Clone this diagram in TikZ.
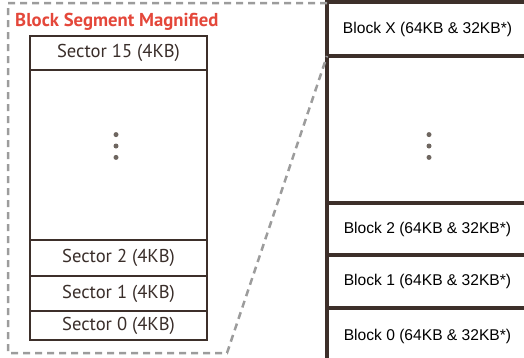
\documentclass[tikz,border=0pt]{standalone}
\usepackage{fontspec}
\setmainfont{PT Sans}
\newfontfamily\blockfont{Liberation Sans}
\usetikzlibrary{positioning}
\definecolor{boxline}{HTML}{3D2F2A}
\definecolor{sectortext}{HTML}{3A2E2A}
\definecolor{dashgray}{HTML}{9C9C9C}
\definecolor{titlered}{HTML}{E4473A}
\definecolor{dotgray}{HTML}{6E6660}

\begin{document}
\begin{tikzpicture}[x=1pt,y=-1pt,
    sector/.style={draw=boxline,line width=2.8pt,fill=white,minimum width=177pt,
      inner sep=0pt,outer sep=0pt,text=sectortext,font=\fontsize{18.6}{18.6}\selectfont},
    block/.style={draw=boxline,line width=3.2pt,fill=white,minimum width=201pt,
      inner sep=0pt,outer sep=0pt,font=\blockfont\fontsize{15.6}{15.6}\selectfont},
    vdot/.style={circle,fill=dotgray,inner sep=0pt,minimum size=5pt},
    magnify/.style={draw=dashgray,line width=2.5pt,dash pattern=on 7pt off 5pt}]
    \useasboundingbox (0,0) rectangle (524,357);
    % title
    \node[anchor=base west,inner sep=0pt,text=titlered,
      font=\bfseries\fontsize{18.7}{18.7}\selectfont] (title) at (15,26) {Block Segment Magnified};
    % sectors
    \node[sector,minimum height=34pt,anchor=north west] (s15) at (30,36) {Sector 15 (4KB)};
    \node[sector,minimum height=170pt,below=0pt of s15] (sgap) {};
    \node[sector,minimum height=36pt,below=0pt of sgap] (s2) {Sector 2 (4KB)};
    \node[sector,minimum height=35pt,below=0pt of s2] (s1) {Sector 1 (4KB)};
    \node[sector,minimum height=29pt,below=0pt of s1] (s0) {Sector 0 (4KB)};
    \node[vdot] (sd2) at (116,146) {};
    \node[vdot,above=6pt of sd2] (sd1) {};
    \node[vdot,below=6pt of sd2] (sd3) {};
    % blocks
    \node[block,minimum height=54pt,anchor=north west] (bx) at (327,2) {Block X (64KB \& 32KB*)};
    \node[block,minimum height=147pt,below=0pt of bx] (bgap) {};
    \node[block,minimum height=52pt,below=0pt of bgap] (b2) {Block 2 (64KB \& 32KB*)};
    \node[block,minimum height=53pt,below=0pt of b2] (b1) {Block 1 (64KB \& 32KB*)};
    \node[block,minimum height=56pt,below=0pt of b1] (b0) {Block 0 (64KB \& 32KB*)};
    \node[vdot] (bd2) at (429,146) {};
    \node[vdot,above=6pt of bd2] (bd1) {};
    \node[vdot,below=6pt of bd2] (bd3) {};
    % magnified outline
    \coordinate (mtl) at (8,3);
    \coordinate (mbl) at (8,353);
    \coordinate (mbr) at (227,353);
    \draw[magnify] (bx.north west |- mtl) -- (mtl) -- (mbl) -- (mbr) -- (bx.south west);
  \end{tikzpicture}
\end{document}
